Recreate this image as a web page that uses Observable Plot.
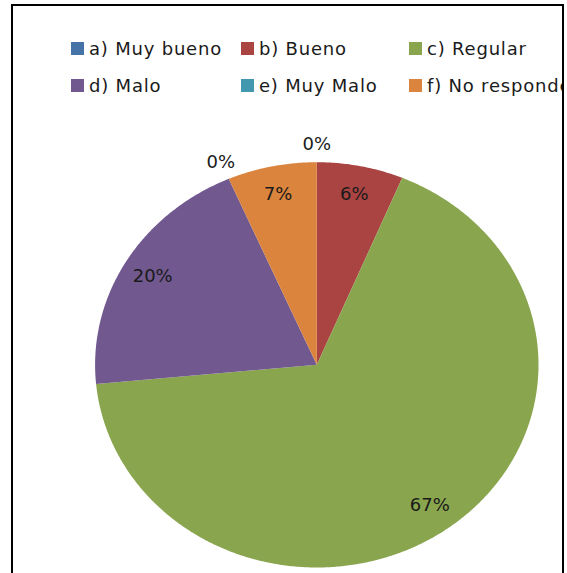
<!DOCTYPE html>
<html>
<head>
<meta charset="utf-8">
<script src="https://cdn.jsdelivr.net/npm/d3@7"></script>
<script src="https://cdn.jsdelivr.net/npm/@observablehq/plot@0.6"></script>
<style>
  html, body { margin: 0; padding: 0; background: #fff; }
  body { width: 567px; height: 573px; overflow: hidden; position: relative; }
  #frame {
    position: absolute; left: 11px; top: 4px; width: 553px; height: 640px;
    box-sizing: border-box; border: 2px solid #000; overflow: hidden;
  }
  #legend {
    position: absolute; left: 58px; top: 24px;
    display: grid; grid-template-columns: 170px 168px 220px;
    font-family: "DejaVu Sans", sans-serif; font-size: 18px; line-height: 37px;
    letter-spacing: 0.8px;
    color: #1a1a1a; white-space: nowrap; z-index: 2;
  }
  #legend .sw { display: inline-block; width: 13px; height: 13px; margin-right: 5px; vertical-align: baseline; }
  #chart { position: absolute; left: -13px; top: -6px; }
</style>
</head>
<body>
<div id="frame">
  <div id="chart"></div>
  <div id="legend"></div>
</div>
<script>
const categories = ["a) Muy bueno", "b) Bueno", "c) Regular", "d) Malo", "e) Muy Malo", "f) No responde"];
const values = [0, 6.3, 67.2, 20, 0, 6.5];
const colors = ["#4572A7", "#A94442", "#89A54E", "#71588F", "#4198AF", "#DB843D"];

const total = d3.sum(values);
let cum = 0;
const slices = [];
const labels = [];
categories.forEach((c, i) => {
  const v = values[i];
  const a0 = cum / total * 2 * Math.PI;
  cum += v;
  const a1 = cum / total * 2 * Math.PI;
  if (v > 0) {
    const n = Math.max(2, Math.ceil((a1 - a0) / (Math.PI / 360)));
    const pts = [{x: 0, y: 0}];
    for (let k = 0; k <= n; k++) {
      const a = a0 + (a1 - a0) * k / n;
      pts.push({x: Math.sin(a), y: Math.cos(a)});
    }
    pts.push({x: 0, y: 0});
    slices.push({cat: c, color: colors[i], pts});
  }
  const mid = (a0 + a1) / 2;
  const r = v > 0 ? 0.86 : 1.09;
  labels.push({x: r * Math.sin(mid), y: r * Math.cos(mid), text: Math.round(v) + "%"});
});

const plot = Plot.plot({
  width: 567,
  height: 573,
  marginLeft: 94.6,
  marginRight: 29,
  marginTop: 161.7,
  marginBottom: 6,
  x: {domain: [-1, 1], axis: null},
  y: {domain: [-1, 1], axis: null},
  style: {background: "transparent", fontFamily: "DejaVu Sans, sans-serif", maxWidth: "none", overflow: "visible"},
  marks: [
    ...slices.map(s => Plot.line(s.pts, {x: "x", y: "y", fill: s.color, stroke: "none", curve: "linear"})),
    Plot.text(labels, {x: "x", y: "y", text: "text", fontSize: 18, fill: "#1a1a1a"})
  ]
});
plot.style.maxWidth = "none";
document.getElementById("chart").appendChild(plot);

const legend = document.getElementById("legend");
categories.forEach((c, i) => {
  const item = document.createElement("div");
  const sw = document.createElement("span");
  sw.className = "sw";
  sw.style.background = colors[i];
  item.appendChild(sw);
  item.appendChild(document.createTextNode(c));
  legend.appendChild(item);
});
</script>
</body>
</html>
